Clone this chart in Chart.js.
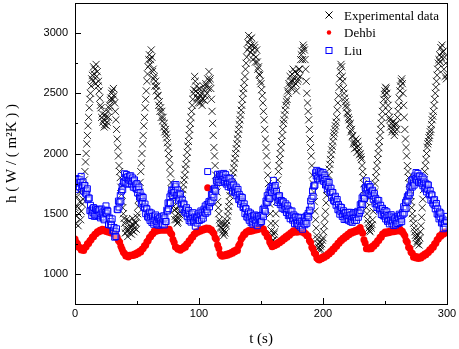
<!DOCTYPE html>
<html>
<head>
<meta charset="utf-8">
<script src="https://cdn.jsdelivr.net/npm/chart.js@4.4.0/dist/chart.umd.min.js"></script>
<style>
html, body { margin: 0; padding: 0; background: #fff; }
</style>
</head>
<body>
<canvas id="canvasCoeficiente" width="459" height="349"></canvas>
<script>
// tiempo (s): experimental y Liu cada 0.5 s, Dehbi cada 1 s
var tiempoMedio = [];
for (var i = 0; i <= 600; i++) tiempoMedio.push(i / 2);
var tiempo = [];
for (var j = 0; j <= 300; j++) tiempo.push(j);

var experimental = [
	1550,1420,1480,1640,1560,1400,1500,1680,1600,1450,1520,1700,1580,1620,1700,1780,1850,1930,2000,2080,
	2150,2230,2300,2380,2450,2500,2560,2620,2650,2600,2720,2660,2700,2580,2740,2640,2680,2560,2600,2520,
	2460,2400,2380,2300,2330,2260,2280,2220,2240,2320,2300,2230,2260,2350,2300,2380,2400,2440,2460,2500,
	2520,2450,2540,2480,2420,2350,2280,2200,2120,2050,1980,1900,1850,1800,1720,1660,1600,1550,1500,1460,
	1420,1340,1380,1450,1350,1310,1370,1440,1340,1400,1390,1330,1360,1460,1410,1350,1380,1430,1420,1370,
	1470,1500,1560,1620,1680,1760,1850,1920,2000,2080,2150,2230,2300,2380,2450,2520,2600,2660,2720,2780,
	2820,2740,2780,2860,2800,2680,2700,2620,2640,2560,2600,2520,2560,2480,2480,2400,2430,2350,2380,2300,
	2350,2270,2300,2220,2250,2180,2200,2160,2130,2090,2050,2000,1950,1890,1830,1760,1700,1650,1600,1560,
	1530,1450,1480,1540,1450,1420,1430,1500,1460,1490,1520,1570,1620,1660,1700,1740,1780,1820,1870,1910,
	1960,2010,2060,2100,2150,2200,2250,2300,2350,2400,2450,2500,2530,2640,2600,2520,2560,2460,2500,2420,
	2460,2540,2420,2480,2500,2400,2450,2560,2530,2440,2480,2580,2560,2500,2620,2540,2680,2600,2620,2540,
	2450,2350,2250,2150,2050,1980,1900,1820,1750,1680,1600,1550,1500,1450,1420,1390,1380,1420,1340,1370,
	1320,1360,1340,1420,1400,1440,1480,1520,1560,1600,1650,1690,1720,1760,1800,1840,1880,1920,1960,2000,
	2040,2080,2120,2160,2200,2240,2280,2320,2360,2400,2450,2500,2540,2590,2640,2700,2750,2800,2860,2920,
	2980,2880,2950,2840,2900,2960,2860,2780,2820,2900,2880,2760,2800,2860,2760,2700,2720,2660,2650,2600,
	2580,2530,2480,2420,2350,2280,2200,2120,2050,1980,1900,1820,1750,1660,1580,1500,1420,1360,1320,1280,
	1280,1330,1350,1420,1500,1600,1700,1780,1850,1900,1950,2000,2050,2100,2150,2200,2250,2280,2320,2360,
	2400,2430,2450,2520,2500,2580,2560,2640,2600,2540,2660,2600,2700,2560,2620,2680,2580,2520,2660,2600,
	2620,2700,2700,2640,2780,2820,2850,2780,2900,2880,2860,2780,2700,2600,2500,2420,2350,2280,2200,2120,
	2050,1980,1900,1820,1750,1680,1600,1520,1450,1380,1320,1290,1250,1220,1200,1260,1230,1200,1250,1280,
	1300,1350,1400,1460,1520,1590,1650,1700,1760,1820,1870,1910,1950,1990,2030,2060,2100,2140,2170,2200,
	2230,2260,2300,2360,2420,2480,2550,2620,2680,2740,2720,2640,2600,2540,2500,2460,2430,2400,2380,2340,
	2330,2300,2280,2240,2250,2180,2200,2140,2150,2080,2100,2040,2080,2120,2050,2010,2100,2060,2030,1990,
	2000,1970,1950,1900,1850,1800,1750,1700,1650,1600,1550,1500,1450,1420,1380,1360,1350,1400,1380,1410,
	1450,1520,1600,1680,1750,1800,1850,1900,1950,2000,2050,2100,2150,2200,2250,2300,2350,2400,2450,2490,
	2520,2550,2540,2500,2450,2400,2350,2300,2280,2220,2250,2180,2200,2260,2230,2150,2180,2240,2250,2200,
	2300,2350,2400,2460,2520,2560,2600,2620,2580,2500,2400,2300,2200,2120,2050,1980,1900,1850,1800,1750,
	1700,1650,1600,1550,1500,1460,1420,1380,1350,1320,1300,1250,1270,1320,1280,1240,1300,1350,1400,1470,
	1550,1620,1700,1780,1850,1900,1950,2000,2050,2080,2100,2130,2150,2180,2200,2240,2280,2310,2350,2400,
	2450,2500,2550,2600,2650,2700,2750,2780,2820,2760,2880,2800,2900,2840,2850,2700,2800,2640,2750,2620,
	2650
];

var dehbi = [
	1290,1262,1250,1222,1220,1198,1214,1195,1220,1226,
	1250,1252,1276,1284,1306,1308,1330,1334,1350,1348,
	1362,1356,1370,1362,1367,1352,1360,1346,1352,1340,
	1348,1336,1334,1306,1304,1278,1264,1230,1205,1180,
	1170,1148,1150,1140,1155,1150,1158,1152,1165,1160,
	1176,1170,1188,1182,1205,1210,1234,1238,1266,1276,
	1302,1308,1330,1336,1358,1352,1365,1358,1370,1362,
	1372,1362,1369,1363,1372,1362,1370,1342,1330,1286,
	1260,1224,1220,1204,1210,1196,1212,1210,1228,1222,
	1248,1250,1276,1278,1302,1306,1330,1334,1350,1346,
	1360,1355,1368,1362,1375,1368,1382,1376,1380,1364,
	1366,1348,1336,1300,1288,1240,1210,1165,1150,1146,
	1158,1150,1163,1155,1170,1163,1178,1172,1190,1184,
	1200,1195,1234,1250,1290,1305,1328,1328,1348,1348,
	1360,1352,1364,1356,1370,1362,1374,1367,1380,1373,
	1386,1376,1372,1344,1338,1308,1302,1264,1246,1226,
	1242,1234,1250,1244,1262,1258,1278,1274,1294,1290,
	1310,1305,1326,1322,1342,1340,1358,1348,1360,1346,
	1358,1350,1357,1348,1358,1338,1336,1316,1316,1278,
	1262,1222,1206,1174,1166,1132,1122,1116,1133,1126,
	1143,1136,1150,1148,1168,1166,1186,1184,1206,1206,
	1230,1230,1254,1254,1277,1277,1297,1293,1313,1309,
	1329,1325,1345,1337,1353,1345,1361,1353,1369,1361,
	1386,1354,1338,1284,1256,1208,1216,1206,1219,1208,
	1231,1229,1251,1250,1276,1278,1304,1305,1331,1333,
	1347,1337,1351,1341,1356,1347,1361,1351,1365,1355,
	1369,1359,1373,1352,1355,1333,1317,1278,1262,1222,
	1213,1180,1171,1138,1147,1132,1142,1128,1137,1132,
	1151,1146,1165,1160,1178,1177,1200,1199,1222,1222,
	1251,1255,1284,1289,1317,1313,1333,1330,1350,1340,
	1350
];

var liu = [
	1755,1702,1755,1792,1725,1785,1755,1722,1785,1760,1810,1727,1735,1764,1688,1734,1735,1670,1695,1661,
	1707,1616,1630,1630,1525,1570,1525,1485,1540,1508,1551,1478,1495,1540,1480,1530,1535,1484,1524,1489,
	1535,1465,1500,1540,1475,1514,1463,1449,1530,1510,1565,1501,1528,1521,1410,1460,1465,1405,1435,1406,
	1457,1357,1363,1386,1305,1352,1310,1375,1536,1533,1605,1555,1595,1652,1604,1687,1725,1700,1765,1758,
	1832,1763,1800,1825,1745,1807,1780,1749,1813,1776,1815,1747,1770,1797,1720,1773,1781,1715,1740,1705,
	1750,1672,1700,1721,1637,1676,1625,1587,1645,1602,1635,1550,1556,1580,1500,1542,1540,1475,1500,1466,
	1513,1444,1480,1506,1427,1478,1440,1412,1480,1447,1490,1417,1435,1472,1405,1456,1463,1407,1441,1418,
	1475,1412,1455,1483,1407,1466,1435,1435,1530,1522,1590,1542,1584,1640,1590,1666,1697,1651,1695,1677,
	1740,1680,1724,1742,1655,1698,1650,1612,1670,1628,1662,1581,1590,1615,1535,1580,1580,1514,1538,1504,
	1550,1475,1505,1526,1443,1495,1457,1430,1498,1466,1509,1432,1445,1473,1396,1455,1470,1422,1465,1445,
	1505,1444,1488,1523,1453,1513,1483,1463,1538,1513,1564,1503,1533,1577,1516,1580,1600,1557,1605,1592,
	1660,1607,1660,1701,1637,1711,1695,1687,1775,1764,1828,1761,1785,1825,1760,1817,1830,1778,1816,1785,
	1835,1765,1800,1825,1745,1794,1754,1724,1790,1755,1795,1720,1735,1764,1688,1736,1740,1677,1705,1673,
	1721,1649,1682,1702,1617,1661,1616,1580,1640,1599,1634,1552,1560,1582,1500,1543,1541,1474,1497,1466,
	1515,1445,1480,1505,1425,1475,1435,1412,1485,1450,1490,1422,1445,1475,1400,1462,1480,1422,1455,1430,
	1485,1435,1490,1535,1475,1547,1530,1520,1605,1590,1650,1595,1630,1680,1625,1695,1720,1677,1725,1711,
	1777,1696,1720,1735,1645,1685,1635,1593,1647,1611,1650,1575,1590,1610,1545,1595,1600,1537,1565,1533,
	1582,1510,1543,1566,1484,1532,1490,1458,1521,1484,1523,1446,1459,1490,1417,1468,1475,1416,1448,1420,
	1471,1402,1439,1465,1387,1438,1400,1371,1438,1416,1470,1408,1437,1481,1420,1484,1503,1471,1530,1527,
	1605,1563,1627,1688,1645,1732,1730,1738,1841,1813,1860,1791,1813,1849,1780,1836,1847,1793,1830,1796,
	1843,1769,1800,1821,1738,1784,1741,1705,1765,1724,1759,1678,1688,1712,1632,1676,1676,1610,1635,1600,
	1645,1570,1599,1618,1533,1577,1532,1496,1556,1516,1551,1477,1494,1525,1452,1503,1510,1451,1483,1457,
	1511,1445,1484,1512,1436,1490,1454,1428,1497,1465,1509,1444,1470,1510,1445,1505,1520,1470,1511,1503,
	1575,1527,1585,1632,1575,1647,1629,1625,1716,1707,1773,1698,1713,1743,1669,1719,1725,1660,1685,1650,
	1695,1619,1648,1667,1582,1628,1585,1551,1612,1573,1610,1531,1542,1570,1493,1541,1545,1483,1511,1479,
	1527,1456,1491,1516,1436,1485,1445,1415,1480,1448,1492,1420,1439,1472,1401,1455,1464,1407,1441,1420,
	1479,1418,1462,1496,1426,1485,1455,1434,1508,1495,1558,1505,1543,1595,1542,1614,1642,1604,1657,1649,
	1721,1673,1731,1778,1721,1783,1755,1737,1814,1790,1842,1779,1806,1835,1760,1810,1815,1755,1785,1754,
	1804,1732,1765,1788,1706,1754,1713,1681,1744,1703,1738,1657,1667,1692,1612,1656,1656,1588,1611,1574,
	1617,1540,1567,1585,1498,1541,1494,1457,1514,1472,1505,1423,1431,1456,1375,1420,1419,1387,1445,1439,
	1478
];

// puntos sueltos cerca de t = 107 s
var dehbiSuelto = [[107, 1715]];
var liuSuelto = [[107, 1850]];

var xTicks = [0, 100, 200, 300];
var xMenores = [50, 150, 250];
var yTicks = [1000, 1500, 2000, 2500, 3000];
var yMenores = [1250, 1750, 2250, 2750];

function armarPuntos(tiempos, valores, sueltos){
	var puntos = [];
	tiempos.forEach(function(t, i){
		puntos.push({x: t, y: valores[i]});
	});
	(sueltos || []).forEach(function(p){
		puntos.push({x: p[0], y: p[1]});
	});
	return puntos;
}

// marco, marcas hacia adentro y leyenda
var marco = {
	id: 'marco',
	afterDraw: function(chart){
		var ctx = chart.ctx;
		var a = chart.chartArea;
		var sx = chart.scales.x, sy = chart.scales.y;
		ctx.save();
		ctx.strokeStyle = '#000';
		ctx.lineWidth = 1;
		ctx.strokeRect(Math.round(a.left) + 0.5, Math.round(a.top) + 0.5,
			Math.round(a.right - a.left), Math.round(a.bottom - a.top));
		ctx.beginPath();
		xTicks.forEach(function(v){
			var p = Math.round(sx.getPixelForValue(v)) + 0.5;
			ctx.moveTo(p, a.bottom); ctx.lineTo(p, a.bottom - 6);
		});
		xMenores.forEach(function(v){
			var p = Math.round(sx.getPixelForValue(v)) + 0.5;
			ctx.moveTo(p, a.bottom); ctx.lineTo(p, a.bottom - 3);
		});
		yTicks.forEach(function(v){
			var p = Math.round(sy.getPixelForValue(v)) + 0.5;
			ctx.moveTo(a.left, p); ctx.lineTo(a.left + 6, p);
		});
		yMenores.forEach(function(v){
			var p = Math.round(sy.getPixelForValue(v)) + 0.5;
			ctx.moveTo(a.left, p); ctx.lineTo(a.left + 3, p);
		});
		ctx.stroke();

		// leyenda
		var mx = a.right - 118, tx = a.right - 103;
		ctx.font = '13px "Liberation Serif"';
		ctx.fillStyle = '#000';
		ctx.textBaseline = 'alphabetic';
		ctx.fillText('Experimental data', tx, 19.5);
		ctx.fillText('Dehbi', tx, 37);
		ctx.fillText('Liu', tx, 55);

		ctx.beginPath();
		ctx.moveTo(mx - 3.5, 11.5); ctx.lineTo(mx + 3.5, 18.5);
		ctx.moveTo(mx + 3.5, 11.5); ctx.lineTo(mx - 3.5, 18.5);
		ctx.stroke();

		ctx.fillStyle = '#ff0000';
		ctx.beginPath();
		ctx.arc(mx, 32.5, 2.2, 0, Math.PI * 2);
		ctx.fill();

		ctx.strokeStyle = '#0000ff';
		ctx.strokeRect(mx - 3, 47.5, 6, 6);
		ctx.restore();
	}
};

window.onload = function(){
	var ctx = document.getElementById('canvasCoeficiente').getContext('2d');
	window.myScatter = new Chart(ctx, {
		type: 'scatter',
		data: {
			datasets: [
				{
					label: 'Liu',
					data: armarPuntos(tiempoMedio, liu, liuSuelto),
					pointStyle: 'rect',
					pointRadius: 4.2,
					borderColor: '#0000ff',
					backgroundColor: 'rgba(255,255,255,0.3)',
					pointBorderWidth: 1,
					order: 1
				},
				{
					label: 'Dehbi',
					data: armarPuntos(tiempo, dehbi, dehbiSuelto),
					pointStyle: 'circle',
					pointRadius: 3.5,
					borderWidth: 0,
					pointBorderWidth: 0,
					borderColor: '#ff0000',
					backgroundColor: '#ff0000',
					order: 2
				},
				{
					label: 'Experimental data',
					data: armarPuntos(tiempoMedio, experimental),
					pointStyle: 'crossRot',
					pointRadius: 5,
					borderColor: 'rgba(0,0,0,0.85)',
					pointBorderWidth: 1,
					order: 3
				}
			]
		},
		options: {
			responsive: false,
			animation: false,
			devicePixelRatio: 1,
			layout: { autoPadding: false, padding: { top: 3, right: 12, left: 0, bottom: 0 } },
			plugins: {
				legend: { display: false },
				tooltip: { enabled: false }
			},
			scales: {
				x: {
					type: 'linear',
					min: 0,
					max: 300,
					grid: { display: false, drawTicks: false },
					border: { display: false },
					afterBuildTicks: function(scale){
						scale.ticks = xTicks.map(function(v){ return {value: v}; });
					},
					afterFit: function(scale){
						scale.height = 45;
						scale.paddingLeft = 0;
						scale.paddingRight = 0;
					},
					ticks: {
						padding: 3,
						color: '#000',
						maxRotation: 0,
						callback: function(v){ return String(v); },
						font: { family: '"Liberation Sans", Arial', size: 11 }
					},
					title: {
						display: true,
						text: 't (s)',
						color: '#000',
						padding: { top: 0, bottom: 1 },
						font: { family: '"Liberation Serif"', size: 15 }
					}
				},
				y: {
					type: 'linear',
					min: 750,
					max: 3250,
					grid: { display: false, drawTicks: false },
					border: { display: false },
					afterBuildTicks: function(scale){
						scale.ticks = yTicks.map(function(v){ return {value: v}; });
					},
					afterFit: function(scale){
						scale.width = 75;
						scale.paddingTop = 0;
						scale.paddingBottom = 0;
					},
					ticks: {
						padding: 7,
						color: '#000',
						callback: function(v){ return String(v); },
						font: { family: '"Liberation Sans", Arial', size: 11 }
					},
					title: {
						display: true,
						text: 'h ( W / ( m\u00B2K ) )',
						color: '#000',
						padding: { top: 3, bottom: 0 },
						font: { family: '"Liberation Serif"', size: 15 }
					}
				}
			}
		},
		plugins: [marco]
	});
};
</script>
</body>
</html>
